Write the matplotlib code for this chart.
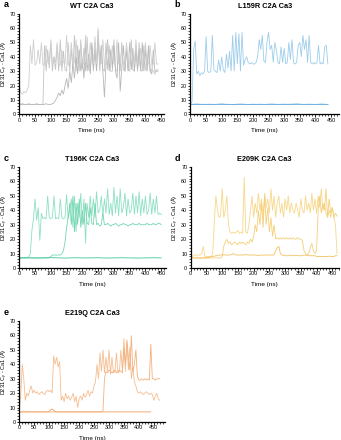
import numpy as np
import matplotlib
matplotlib.use("Agg")
import matplotlib.pyplot as plt
from matplotlib.ticker import MultipleLocator

plt.rcParams['font.family'] = ['Liberation Sans', 'DejaVu Sans']
plt.rcParams['mathtext.fontset'] = 'custom'
plt.rcParams['mathtext.rm'] = 'Liberation Sans'
plt.rcParams['mathtext.it'] = 'Liberation Sans:italic'

# ---------------- DATA ----------------
t5_440 = list(range(0, 445, 5))      # 0..440
t5_450 = list(range(0, 455, 5))      # 0..450
t5_465 = list(range(0, 470, 5))      # 0..465
t5_470 = list(range(0, 475, 5))      # 0..470
t_flat440 = [0, 20, 40, 60, 80, 100, 120, 140, 160, 180, 200, 220, 240, 260, 280, 300, 320, 340, 360, 380, 400, 420, 440]
t_flat450 = [0, 25, 50, 75, 100, 125, 150, 175, 200, 225, 250, 275, 300, 325, 350, 375, 400, 425, 450]

# Panel a: WT
wt_1 = [20, 15, 14, 16, 15, 17, 20, 48, 35, 52, 34, 36, 45, 35, 50, 34, 35, 48, 36, 35,
        52, 35, 40, 36, 50, 35, 34, 45, 36, 35, 55, 34, 38, 50, 35, 36, 52, 35, 34, 48,
        36, 35, 55, 34, 35, 50, 36, 35, 54, 35, 60, 36, 35, 52, 34, 35, 50, 36, 35, 48,
        35, 34, 52, 35, 36, 45, 35, 34, 50, 35, 35, 48, 36, 35, 52, 35, 34, 46, 35, 36,
        50, 35, 35, 48, 34, 35, 50, 35, 35]
wt_2 = [7, 7, 7.5, 7, 7, 7, 7.5, 7, 7, 7, 7, 7.5, 7, 7, 7, 7, 7, 7.5, 7, 7,
        7, 7.5, 8, 10, 12, 15, 13, 17, 14, 20, 25, 18, 30, 22, 35, 25, 40, 28, 45, 30,
        38, 25, 50, 30, 42, 28, 50, 32, 45, 30, 55, 35, 48, 30, 12, 35, 52, 30, 45, 32,
        48, 30, 25, 50, 16, 32, 48, 30, 45, 30, 50, 31, 46, 30, 48, 31, 44, 30, 50, 30,
        45, 31, 48, 30, 28, 45, 30, 30, 30]
wt_3 = [8, 7, 7, 7, 7, 7, 7, 7, 7, 7, 7, 7, 7, 7, 7, 7, 48, 30, 45, 32,
        50, 30, 40, 31, 48, 30, 52, 30, 44, 31, 30, 50, 30, 45, 31, 55, 30, 48, 30, 52,
        31, 46, 30, 54, 31, 30, 48, 30, 50, 31, 58, 30, 45, 31, 30, 50, 31, 48, 30, 30,
        52, 31, 30, 45, 30, 50, 31, 30, 48, 31, 30, 52, 31, 30, 45, 30, 50, 31, 30, 48,
        31, 30, 45, 30, 31, 30, 28, 31, 31]

# Panel b: L159R
l159r_1 = [7, 9, 45, 51, 28, 30, 27, 29, 28, 30, 54, 30, 29, 30, 55, 31, 30, 29, 38, 30,
           40, 31, 29, 42, 32, 44, 30, 55, 30, 57, 35, 56, 30, 57, 34, 38, 40, 36, 35, 36,
           35, 35, 36, 40, 52, 45, 55, 37, 36, 50, 57, 45, 48, 36, 50, 45, 36, 35, 47, 36,
           46, 35, 36, 50, 38, 52, 36, 35, 36, 48, 50, 40, 55, 45, 52, 36, 55, 36, 35, 36,
           35, 36, 48, 35, 36, 35, 47, 48, 35]
l159r_2 = [7, 7.2, 6.9, 7.1, 7, 7.3, 6.9, 7, 7.2, 7, 6.9, 7.1, 7, 7.2, 7, 7.1, 7, 7.3, 7, 7.1, 7, 7.2, 7]
l159r_3 = [6.8, 6.9, 7.1, 6.8, 7, 6.9, 7.1, 6.8, 7, 6.9, 7.1, 6.9, 7, 6.8, 7, 6.9, 7.1, 6.9, 7, 6.8, 7, 6.9, 6.9]

# Panel c: T196K
t196k_1 = [7, 7, 7, 7, 7, 7, 8, 10, 26, 34, 48, 33, 42, 19, 38, 34, 35, 34, 50, 35,
           34, 35, 50, 34, 35, 34, 48, 35, 34, 35, 51, 34, 40, 48, 28, 50, 25, 45, 35, 52,
           30, 48, 17, 45, 35, 50, 36, 48, 35, 53, 38, 40, 50, 36, 48, 38, 55, 37, 45, 36,
           56, 38, 50, 36, 55, 38, 42, 52, 36, 48, 38, 40, 52, 37, 50, 38, 53, 36, 48, 38,
           50, 37, 40, 52, 37, 48, 38, 50, 37, 38, 37]
t196k_2 = [7, 7, 7, 7, 7, 7, 7, 7, 7, 7, 7, 7, 7, 7, 7, 7, 7, 7, 7, 7,
           8, 9, 9, 9, 9, 9, 9, 10, 12, 18, 28, 35, 45, 30, 50, 25, 45, 30, 48, 28,
           40, 30, 45, 31, 30, 42, 31, 30, 45, 30, 31, 29, 30, 38, 30, 30, 31, 30, 29, 30,
           30, 31, 30, 29, 30, 30, 31, 30, 30, 29, 30, 30, 31, 30, 30, 30, 31, 30, 30, 30,
           30, 31, 30, 30, 30, 31, 30, 30, 31, 31, 30]
t196k_3 = [7, 7.1, 6.9, 7, 7.2, 7, 6.9, 7.1, 7, 7, 7.1, 6.9, 7, 7.1, 7, 6.9, 7, 7.1, 7]

# Panel d: E209K
e209k_1 = [7, 8, 9, 9, 9, 9, 9, 10, 15, 8, 8, 8, 8, 8, 10, 32, 50, 40, 35, 36,
           55, 35, 40, 50, 30, 25, 24, 25, 24, 25, 26, 24, 25, 24, 63, 25, 24, 30, 40, 50,
           35, 45, 38, 52, 40, 48, 35, 52, 42, 48, 38, 55, 40, 50, 35, 45, 50, 38, 45, 35,
           48, 40, 50, 38, 45, 40, 38, 45, 40, 35, 48, 40, 38, 50, 40, 45, 38, 52, 40, 48,
           38, 50, 42, 55, 40, 45, 38, 35, 40, 35, 42, 35, 30, 10]
e209k_2 = [7, 7, 7, 7, 7, 7, 7, 7, 7, 7, 7, 7, 7, 7, 7, 7, 7, 7, 7, 7,
           8, 15, 18, 20, 17, 18, 16, 17, 18, 17, 16, 18, 17, 18, 17, 16, 18, 17, 20, 18,
           22, 30, 25, 40, 30, 45, 28, 50, 30, 42, 25, 35, 22, 30, 20, 21, 20, 21, 20, 21,
           20, 21, 20, 21, 20, 21, 20, 20, 21, 20, 20, 19, 12, 10, 9, 10, 14, 17, 12, 10,
           12, 40, 50, 38, 45, 40, 55, 35, 48, 38, 42, 35, 38, 36]
e209k_3 = [6.5, 7, 7, 6.8, 7, 7, 6.9, 7, 7, 7, 7, 7.2, 7.5, 7.8, 8, 8.2, 8.5, 8.8, 9, 9,
           9, 9.2, 9, 9, 9, 9, 9.5, 10, 9.5, 9, 9, 9, 9, 9, 9, 9.5, 9, 9, 9, 9,
           9, 9, 8.8, 8.5, 9, 9, 8.8, 9, 9, 9, 9, 9, 9, 9, 12, 14, 15, 10, 9, 8.8,
           8.5, 8.5, 8.5, 9, 8.8, 8.5, 8.5, 8.8, 8.5, 8.5, 8.5, 8.8, 9, 8.8, 9, 8.5, 8.5, 8.5, 8.5, 8.5,
           8, 8, 8, 8, 8, 8, 8, 8, 8.2, 8, 8, 8, 8.5, 8.5]

# Panel e: E219Q
e219q_1 = [7, 7, 7, 7, 7, 7, 7.2, 7, 7, 7, 7, 7, 7, 7, 7, 7, 7, 7, 7, 7,
           7, 8.5, 9, 8, 7.2, 7, 7, 7, 7, 7, 7, 7, 7, 7, 7, 7, 7, 7, 7, 7,
           7, 7, 7, 7, 7, 7, 7, 7, 7, 7, 7, 7, 7, 7, 7, 7, 7, 7, 7, 7,
           7, 7, 7, 7, 7, 7, 7, 7, 7, 7, 7, 7, 7, 7, 7, 7, 7, 7, 7, 7,
           7, 7, 7, 7, 7, 7, 7, 7, 7]
e219q_2 = [7, 20, 40, 30, 15, 20, 18, 22, 25, 20, 22, 20, 21, 19, 20, 21, 20, 19, 21, 22,
           21, 22, 20, 46, 40, 45, 38, 42, 15, 18, 14, 20, 16, 18, 15, 17, 20, 14, 18, 10,
           16, 18, 15, 20, 17, 19, 22, 18, 21, 20, 25, 28, 40, 30, 48, 35, 50, 34, 45, 35,
           50, 33, 45, 34, 35, 48, 34, 35, 50, 35, 58, 35, 55, 36, 52, 30, 38, 28, 25, 21,
           20, 21, 20, 19, 20, 21, 20, 19, 20, 19, 15, 18, 20, 16, 15]
e219q_3 = [7, 7, 7, 7, 7, 7, 7, 7, 7, 7, 7, 7, 7, 7, 7, 7, 7, 7, 7, 7,
           7, 7, 7, 7, 7, 7, 7, 7, 7, 7, 7, 7, 7, 7, 7, 7, 7, 7, 7, 7,
           7, 7, 7, 7, 7, 7, 7, 7, 7, 7, 7, 7, 7, 7, 7, 7, 8, 30, 35, 34,
           36, 35, 34, 35, 36, 34, 35, 36, 35, 34, 52, 40, 57, 45, 36, 60, 35, 40, 50, 32,
           29, 29, 30, 29, 30, 29, 30, 29, 54, 30, 30, 29, 30, 30, 30]

titles = ["WT C2A Ca3", "L159R C2A Ca3", "T196K C2A Ca3", "E209K C2A Ca3", "E219Q C2A Ca3"]
letters = ["a", "b", "c", "d", "e"]
x_ticks = [0, 50, 100, 150, 200, 250, 300, 350, 400, 450]
y_ticks = [0, 10, 20, 30, 40, 50, 60, 70]

# ---------------- FIGURE ----------------
W, H = 341, 440
fig = plt.figure(figsize=(W / 100, H / 100), dpi=100)

def px_axes(x0, x_450, xmax, y0, y70):
    per = (x_450 - x0) / 450.0
    x1 = x0 + per * xmax
    ax = fig.add_axes([x0 / W, 1 - y0 / H, (x1 - x0) / W, (y0 - y70) / H])
    return ax, xmax, (x1 - x0), (y0 - y70)

panels = [
    dict(pos=(19.3, 161.2, 458, 114.5, 13.5), c=["#c4c4c4", "#b8b8b8", "#cfcfcf"],
         series=[(t5_440, wt_3), (t5_440, wt_2), (t5_440, wt_1)]),
    dict(pos=(190.5, 331.0, 476, 114.5, 13.5), c=["#9dcdeb", "#5aa6d8", "#6fb2de"],
         series=[(t5_440, l159r_1), (t_flat440, l159r_2), (t_flat440, l159r_3)]),
    dict(pos=(19.3, 161.2, 464, 268.0, 167.0), c=["#8ee0c3", "#74d6b3", "#3fc699"],
         series=[(t5_450, t196k_1), (t5_450, t196k_2), (t_flat450, t196k_3)]),
    dict(pos=(190.7, 332.3, 470, 268.0, 167.0), c=["#f7d789", "#f5cf78", "#f2c260"],
         series=[(t5_465, e209k_1), (t5_465, e209k_2), (t5_465, e209k_3)]),
    dict(pos=(19.3, 153.8, 489, 422.0, 321.0), c=["#f0a060", "#f6bd90", "#f4b07c"],
         series=[(t5_440, e219q_1), (t5_470, e219q_2), (t5_470, e219q_3)]),
]

for i, p in enumerate(panels):
    ax, xmax, wpx, hpx = px_axes(*p["pos"])
    for (tx, ty), col in zip(p["series"], p["c"]):
        ax.plot(tx, ty, color=col, lw=0.6, solid_joinstyle="miter")
    ax.set_xlim(0, xmax)
    ax.set_ylim(0, 70)
    ax.set_xticks(x_ticks)
    ax.set_yticks(y_ticks)
    ax.xaxis.set_minor_locator(MultipleLocator(10))
    ax.yaxis.set_minor_locator(MultipleLocator(2))
    for s in ["top", "right"]:
        ax.spines[s].set_visible(False)
    for s in ["left", "bottom"]:
        ax.spines[s].set_linewidth(0.9)
    ax.tick_params(axis="both", which="major", labelsize=3.9, length=1.8, width=0.6, pad=0.6)
    ax.tick_params(axis="both", which="minor", length=1.1, width=0.5)
    ax.set_xlabel("Time (ns)", fontsize=4.6)
    ax.xaxis.set_label_coords(0.5, -13.5 / hpx)
    ax.set_ylabel("D231 C$_\\gamma$ - Ca1 (Å)", fontsize=4.0)
    ax.yaxis.set_label_coords(-9.3 / wpx, 0.5)
    ax.set_title(titles[i], fontsize=5.3, fontweight="bold", pad=4)
    bb = ax.get_position()
    fig.text(bb.x0 - 16 / W, bb.y1 + 9 / H, letters[i], fontsize=6.5, fontweight="bold",
             ha="left", va="center")

fig.savefig("out.png", dpi=100)
